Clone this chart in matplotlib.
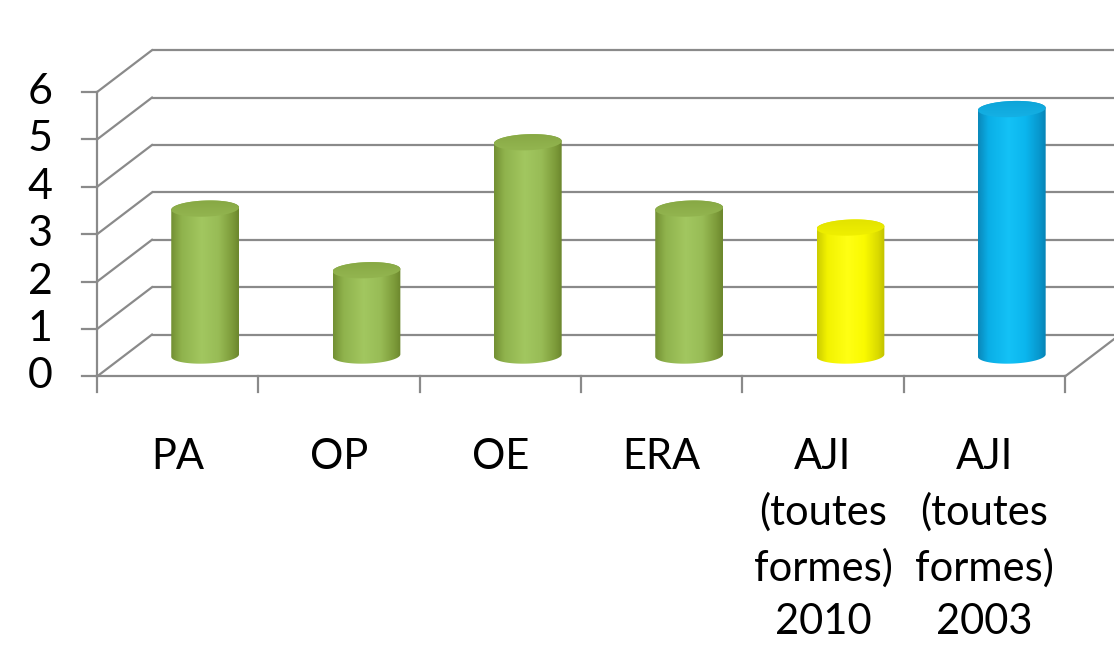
import numpy as np
import matplotlib.pyplot as plt
from matplotlib.patches import Polygon
from matplotlib.colors import to_rgb

plt.rcParams['font.family'] = ['Lato', 'DejaVu Sans']

categories = ["PA", "OP", "OE", "ERA",
              "AJI\n(toutes\nformes)\n2010", "AJI\n(toutes\nformes)\n2003"]
values = [3.1, 1.8, 4.5, 3.1, 2.7, 5.2]
y_ticks = [0, 1, 2, 3, 4, 5, 6]
bar_colors = ["green", "green", "green", "green", "yellow", "blue"]

# body stops left -> right, then top face back / front
palette = {
    "green":  (("#728f33", "#8fb24c", "#a2c760", "#98bc56", "#7e9c3a", "#6c872d"),
               "#82a23f", "#98bb55"),
    "yellow": (("#cccc00", "#f2f200", "#ffff14", "#fafa00", "#dada00", "#c2c200"),
               "#dcdc00", "#f6f600"),
    "blue":   (("#0a88ba", "#0aaee6", "#14c2f6", "#0bb6ee", "#0898ce", "#0784b6"),
               "#0a9ed2", "#18b6ea"),
}
stop_pos = [0.0, 0.15, 0.45, 0.7, 0.9, 1.0]

GRID = "#8a8a8a"
DX, DY = 0.341, 0.884      # depth offset of the back wall (axis units)
W = 0.42                   # cylinder width
EH = 0.17                  # half height of cylinder ellipses
SHEAR = 0.12


def ellipse_pts(cx, cy, a, b, t0, t1, n=60):
    t = np.linspace(t0, t1, n)
    x = cx + a * np.cos(t)
    y = cy + b * np.sin(t) + SHEAR * (x - cx)
    return x, y


def h_gradient(stops, n=128):
    t = np.linspace(0, 1, n)
    cols = np.array([to_rgb(c) for c in stops])
    rgb = np.stack([np.interp(t, stop_pos, cols[:, k]) for k in range(3)], axis=-1)
    return rgb[np.newaxis, :, :]


def v_gradient(c_back, c_front, n=64):
    t = np.linspace(0, 1, n)[:, None]
    a, b = np.array(to_rgb(c_back)), np.array(to_rgb(c_front))
    return (a * (1 - t) + b * t)[:, np.newaxis, :]


fig = plt.figure(figsize=(11.14, 6.46), dpi=100)
ax = fig.add_axes([0, 0, 1, 1])

n_cat = len(categories)
x_end = n_cat + DX + 0.5

# back wall gridlines and left wall diagonals
for v in y_ticks:
    ax.plot([DX, x_end], [v + DY, v + DY], color=GRID, lw=1.6, zorder=1,
            solid_capstyle='butt')
    ax.plot([0, DX], [v, v + DY], color=GRID, lw=1.6, zorder=1)

# floor
ax.plot([0, n_cat], [0, 0], color=GRID, lw=1.6, zorder=1)
ax.plot([n_cat, n_cat + DX], [0, DY], color=GRID, lw=1.6, zorder=1)

# front value axis with ticks
ax.plot([0, 0], [y_ticks[0], y_ticks[-1]], color=GRID, lw=1.6, zorder=1)
for v in y_ticks:
    ax.plot([-0.093, 0], [v, v], color=GRID, lw=1.6, zorder=1)
    ax.text(-0.353, v, str(v), ha='center', va='center', fontsize=31, color='black')

# category ticks and labels
for i in range(n_cat + 1):
    ax.plot([i, i], [0, -0.32], color=GRID, lw=1.6, zorder=1)
for i, lab in enumerate(categories):
    ax.text(i + 0.5, -1.3, lab, ha='center', va='top', fontsize=30,
            linespacing=1.5, color='black')

# cylinders
for i, (v, key) in enumerate(zip(values, bar_colors)):
    body_stops, tb, tf = palette[key]
    cx = i + 0.5 + DX / 2
    y0 = DY / 2
    y1 = v + DY / 2
    a = W / 2

    bx, by = ellipse_pts(cx, y0, a, EH, np.pi, 2 * np.pi)
    tx, ty = ellipse_pts(cx, y1, a, EH, 0, np.pi)
    body = Polygon(np.column_stack([np.r_[bx, tx], np.r_[by, ty]]),
                   closed=True, facecolor='none', edgecolor='none')
    ax.add_patch(body)
    im = ax.imshow(h_gradient(body_stops), extent=(cx - a, cx + a, y0 - 2 * EH, y1 + 2 * EH),
                   aspect='auto', interpolation='bicubic', zorder=3)
    im.set_clip_path(body)

    ex, ey = ellipse_pts(cx, y1, a, EH, 0, 2 * np.pi, 90)
    top = Polygon(np.column_stack([ex, ey]), closed=True,
                  facecolor='none', edgecolor='none')
    ax.add_patch(top)
    im2 = ax.imshow(v_gradient(tb, tf), extent=(cx - a, cx + a, y1 - 2 * EH, y1 + 2 * EH),
                    aspect='auto', interpolation='bicubic', zorder=4, origin='upper')
    im2.set_clip_path(top)

ax.set_xlim(-0.601, 6.304)
ax.set_ylim(-5.686, 7.943)
ax.axis('off')

plt.savefig("out.png", dpi=100)
plt.close()
